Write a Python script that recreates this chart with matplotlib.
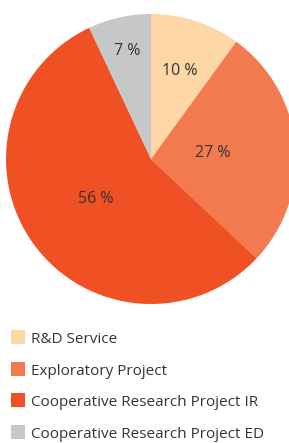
import numpy as np
import matplotlib
matplotlib.use("Agg")
import matplotlib.pyplot as plt
from matplotlib.patches import Rectangle

# Data
categories = ["R&D Service", "Exploratory Project", "Cooperative Research Project IR", "Cooperative Research Project ED"]
shares = [10, 27, 56, 7]
colors = ["#FDD8A6", "#F37A4E", "#F05124", "#C6C7C9"]
label_dist = [0.64, 0.43, 0.47, 0.76]

W, H = 289, 443
fig = plt.figure(figsize=(W / 100, H / 100), dpi=100)
plt.rcParams["font.family"] = ["Open Sans", "DejaVu Sans"]

# Pie axes: centre (151, 159) px, radius 145 px
cx, cy, r = 151, 159, 145
ax = fig.add_axes([(cx - r) / W, (H - cy - r) / H, 2 * r / W, 2 * r / H])
wedges, _ = ax.pie(shares, colors=colors, startangle=90, counterclock=False,
                   radius=1, wedgeprops=dict(linewidth=0))
ax.set_xlim(-1, 1)
ax.set_ylim(-1, 1)
ax.set_aspect("equal")
ax.axis("off")

# Percent labels
for w, val, d in zip(wedges, shares, label_dist):
    ang = np.deg2rad((w.theta1 + w.theta2) / 2)
    ax.text(d * np.cos(ang), d * np.sin(ang), f"{val} %", ha="center", va="center",
            fontsize=11.5, color="#333333")

# Legend (drawn by hand in pixel layout)
row0, pitch = 337, 31.7
for i, (lab, c) in enumerate(zip(categories, colors)):
    yc = row0 + i * pitch
    fig.patches.append(Rectangle((11 / W, (H - yc - 7) / H), 14 / W, 14 / H,
                                 transform=fig.transFigure, facecolor=c, edgecolor="none"))
    fig.text(31 / W, (H - yc - 6) / H, lab, ha="left", va="baseline",
             fontsize=11, color="#333333")

fig.savefig("out.png", dpi=100)
